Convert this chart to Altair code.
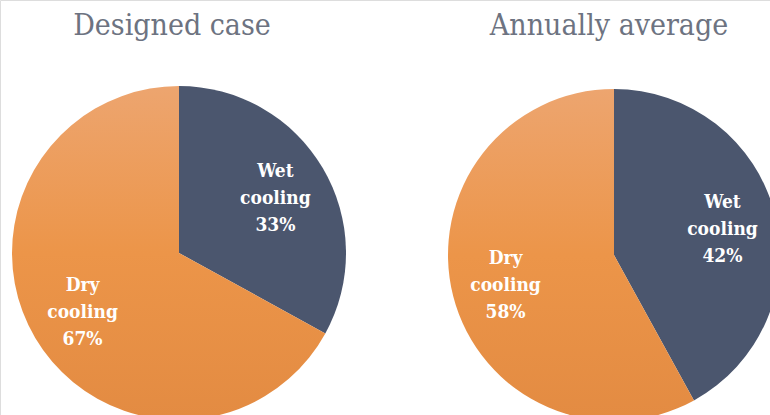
import altair as alt
import pandas as pd

# Cooling-mode shares for the two operating cases
cases = ["Designed case", "Annually average"]
kinds = ["Wet", "Dry"]
wet_share = [33, 42]
dry_share = [67, 58]

rows = []
for case, w, d in zip(cases, wet_share, dry_share):
    rows.append({"case": case, "kind": "Wet", "order": 0, "share": w,
                 "label": f"Wet\ncooling\n{w}%"})
    rows.append({"case": case, "kind": "Dry", "order": 1, "share": d,
                 "label": f"Dry\ncooling\n{d}%"})
df = pd.DataFrame(rows)

SERIF = "DejaVu Serif Condensed, DejaVu Serif"
BLUE = "#4b566e"
ORANGE = alt.Gradient(
    gradient="linear",
    x1=0, y1=0, x2=0, y2=1,
    stops=[
        alt.GradientStop(color="#eda56f", offset=0),
        alt.GradientStop(color="#ec9549", offset=0.5),
        alt.GradientStop(color="#e38b42", offset=1),
    ],
)

base = alt.Chart(df)


def pie(case, cx, cy, r, title_x):
    sub = base.transform_filter(alt.datum.case == case)
    arc = sub.mark_arc(radius=r).encode(
        theta=alt.Theta("share:Q", stack=True),
        order=alt.Order("order:Q"),
        fill=alt.condition(alt.datum.kind == "Wet", alt.value(BLUE), alt.value(ORANGE)),
        x=alt.value(cx),
        y=alt.value(cy),
    )
    # three-line labels, shifted up so the middle line sits on the anchor
    text = sub.mark_text(
        radius=112, font=SERIF, fontWeight="bold", fontSize=19,
        color="white", lineBreak="\n", lineHeight=27, align="center",
        baseline="middle", dy=-25,
    ).encode(
        theta=alt.Theta("share:Q", stack=True),
        order=alt.Order("order:Q"),
        text="label:N",
        x=alt.value(cx),
        y=alt.value(cy),
    )
    title = alt.Chart(pd.DataFrame({"t": [case]})).mark_text(
        font=SERIF, fontSize=30, color="#6d7381",
        align="center", baseline="alphabetic",
    ).encode(text="t:N", x=alt.value(title_x), y=alt.value(35))
    return [arc, text, title]


layers = pie(cases[0], 179, 253, 167, 172) + pie(cases[1], 614, 255, 166, 609)

chart = alt.layer(*layers).properties(
    width=770, height=415, padding=0,
    autosize=alt.AutoSizeParams(type="none"),
).configure_view(stroke=None).configure(background="white")

chart.save("out.html", embed_options={"renderer": "svg", "actions": False})
